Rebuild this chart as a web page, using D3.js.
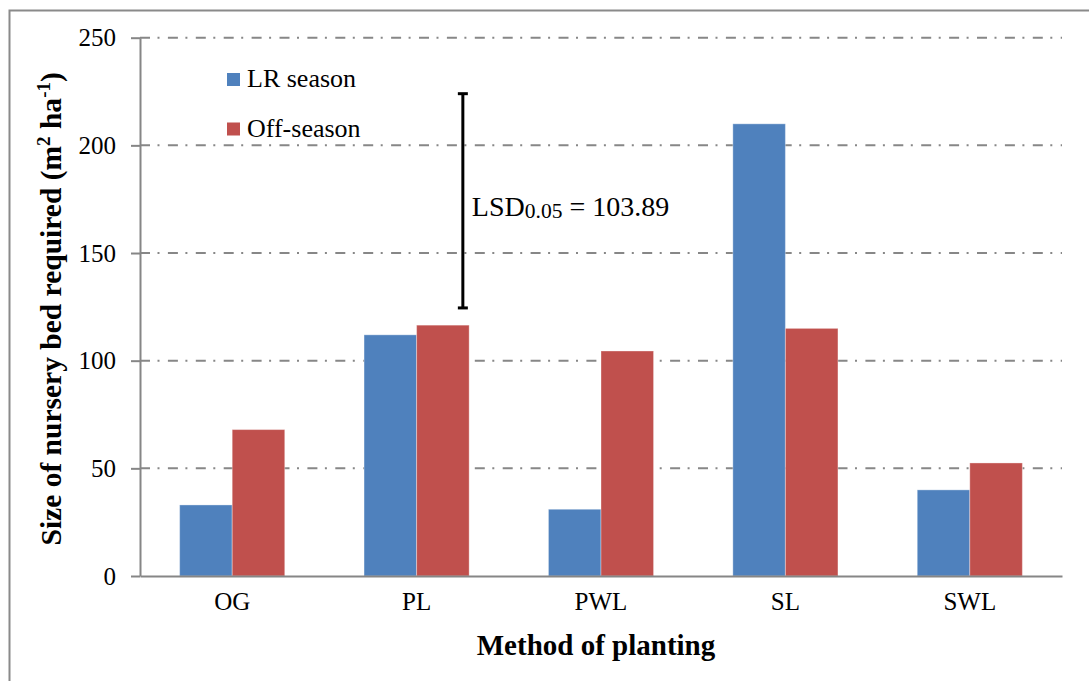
<!DOCTYPE html>
<html>
<head>
<meta charset="utf-8">
<script src="https://cdn.jsdelivr.net/npm/d3@7"></script>
<style>
  html, body { margin: 0; padding: 0; background: #fff; }
  svg { display: block; }
</style>
</head>
<body>
<svg id="chart" width="1089" height="681"></svg>
<script>
// ---- data ----
const categories = ["OG", "PL", "PWL", "SL", "SWL"];
const seriesNames = ["LR season", "Off-season"];
const lrSeason = [33, 112, 31, 210, 40];
const offSeason = [68, 116.5, 104.5, 115, 52.5];
const yTicks = [0, 50, 100, 150, 200, 250];
const lsdLabel = "LSD";
const lsdSub = "0.05";
const lsdValueText = " = 103.89";
const lsdRange = [124.5, 224];
const colors = ["#4F81BD", "#C0504D"];

const FONT = "'Liberation Serif', 'Times New Roman', serif";

// ---- layout ----
const svg = d3.select("#chart");
const plotLeft = 140, plotRight = 1062, plotTop = 37.7, plotBottom = 576;

const x0 = d3.scaleBand().domain(categories).range([plotLeft, plotRight])
  .paddingInner(0.43).paddingOuter(0.215);
const x1 = d3.scaleBand().domain(seriesNames).range([0, x0.bandwidth()]);
const y = d3.scaleLinear().domain([0, 250]).range([plotBottom, plotTop]);

// outer border
svg.append("rect").attr("x", 9.5).attr("y", 10.5).attr("width", 1100).attr("height", 700)
  .attr("fill", "none").attr("stroke", "#8a8a8a").attr("stroke-width", 2);

// gridlines (dash-dot)
svg.append("g").selectAll("line").data(yTicks.filter(d => d > 0)).join("line")
  .attr("x1", plotLeft).attr("x2", plotRight)
  .attr("y1", d => y(d)).attr("y2", d => y(d))
  .attr("stroke", "#878787").attr("stroke-width", 2)
  .attr("stroke-dasharray", "10,7.5,2,8.4");

// bars
const data = categories.map((c, i) => ({ cat: c, values: [lrSeason[i], offSeason[i]] }));
const groups = svg.append("g").selectAll("g").data(data).join("g")
  .attr("transform", d => `translate(${x0(d.cat)},0)`);
groups.selectAll("rect").data(d => d.values.map((v, j) => ({ s: seriesNames[j], v, j })))
  .join("rect")
  .attr("x", d => x1(d.s)).attr("width", x1.bandwidth())
  .attr("y", d => y(d.v)).attr("height", d => y(0) - y(d.v))
  .attr("fill", d => colors[d.j])
  .attr("stroke", "rgba(255,255,255,0.35)").attr("stroke-width", 1);

// y axis
const yAxis = d3.axisLeft(y).tickValues(yTicks).tickSize(9).tickPadding(15).tickSizeOuter(0);
const gy = svg.append("g").attr("transform", `translate(${plotLeft},0)`).call(yAxis)
  .attr("font-family", FONT);
gy.select(".domain").attr("stroke", "#868686").attr("stroke-width", 2);
gy.selectAll(".tick line").attr("stroke", "#868686").attr("stroke-width", 2);
gy.selectAll(".tick text").attr("font-size", 25).attr("font-family", FONT).attr("fill", "#000");

// x axis
const xAxis = d3.axisBottom(x0).tickSize(0).tickPadding(16).tickSizeOuter(0);
const gx = svg.append("g").attr("transform", `translate(0,${plotBottom})`).call(xAxis)
  .attr("font-family", FONT);
gx.select(".domain").attr("stroke", "#868686").attr("stroke-width", 2);
gx.selectAll(".tick text").attr("font-size", 25).attr("font-family", FONT).attr("fill", "#000");

// axis titles
svg.append("text").attr("x", (plotLeft + plotRight) / 2 - 5).attr("y", 655)
  .attr("text-anchor", "middle").attr("font-size", 29).attr("font-weight", "bold")
  .attr("font-family", FONT).attr("fill", "#000")
  .text("Method of planting");

const yt = svg.append("text").attr("transform", `translate(61,${(plotTop + plotBottom) / 2 + 2}) rotate(-90)`)
  .attr("text-anchor", "middle").attr("font-size", 29.5).attr("font-weight", "bold")
  .attr("font-family", FONT).attr("fill", "#000");
yt.append("tspan").text("Size of nursery bed required (m");
yt.append("tspan").attr("font-size", 19).attr("dy", -11).text("2");
yt.append("tspan").attr("dy", 11).text(" ha");
yt.append("tspan").attr("font-size", 19).attr("dy", -11).text("-1");
yt.append("tspan").attr("dy", 11).text(")");

// legend
const legend = svg.append("g").selectAll("g").data(seriesNames).join("g")
  .attr("transform", (d, i) => `translate(227,${73 + i * 49.5})`);
legend.append("rect").attr("width", 13).attr("height", 13).attr("fill", (d, i) => colors[i]);
legend.append("text").attr("x", 20).attr("y", 14).attr("font-size", 26)
  .attr("font-family", FONT).attr("fill", "#000").text(d => d);

// LSD bar
const lsdX = x0("PL") + x1("Off-season") + x1.bandwidth() * 0.88;
const lsd = svg.append("g");
lsd.append("line").attr("x1", lsdX).attr("x2", lsdX)
  .attr("y1", y(lsdRange[0])).attr("y2", y(lsdRange[1]))
  .attr("stroke", "#000").attr("stroke-width", 3);
lsd.selectAll("line.cap").data(lsdRange).join("line").attr("class", "cap")
  .attr("x1", lsdX - 5).attr("x2", lsdX + 5)
  .attr("y1", d => y(d)).attr("y2", d => y(d))
  .attr("stroke", "#000").attr("stroke-width", 3);
const lt = lsd.append("text").attr("x", lsdX + 9).attr("y", 216).attr("font-size", 28)
  .attr("font-family", FONT).attr("fill", "#000");
lt.append("tspan").text(lsdLabel);
lt.append("tspan").attr("font-size", 21.5).attr("dy", 2).text(lsdSub);
lt.append("tspan").attr("dy", -2).text(lsdValueText);
</script>
</body>
</html>
